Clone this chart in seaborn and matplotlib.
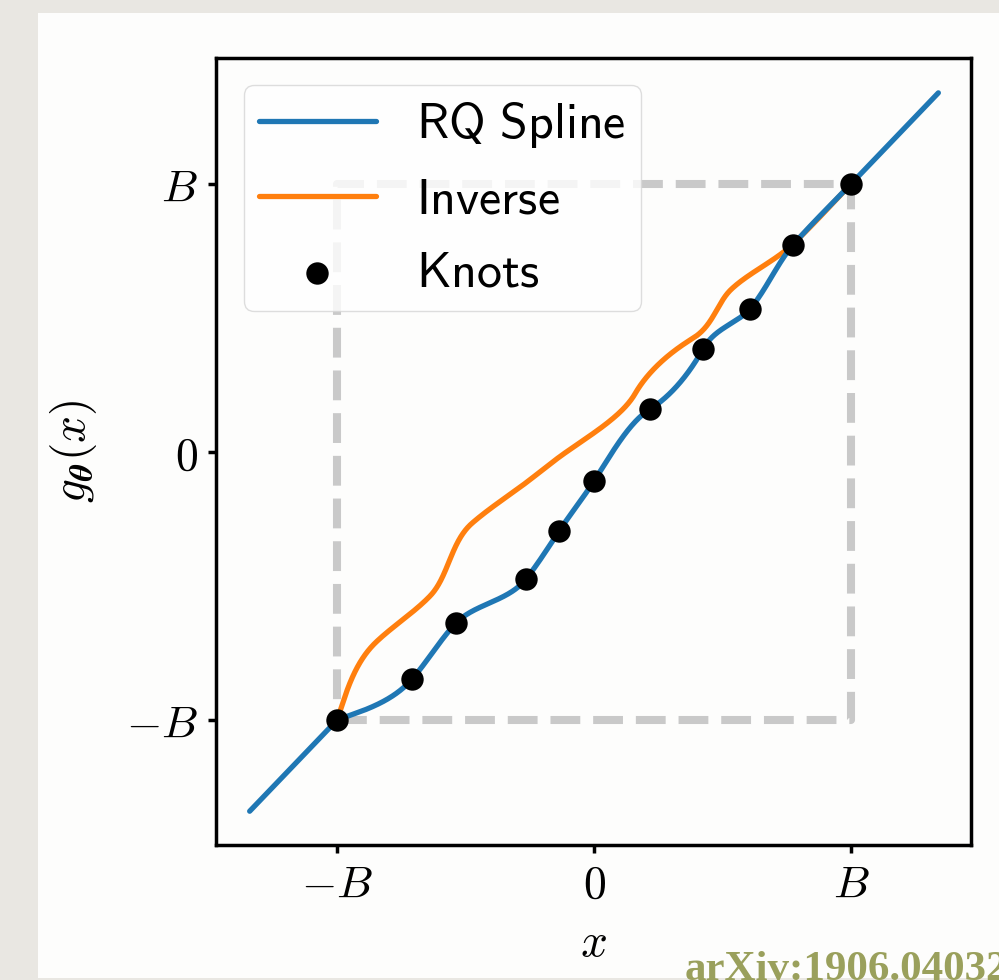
import numpy as np
import pandas as pd
import matplotlib
matplotlib.use("Agg")
import matplotlib.pyplot as plt
from matplotlib.patches import Rectangle
import seaborn as sns

# ---- data (B = 1) ----
knot_x = [-1.0, -0.708, -0.537, -0.265, -0.136, 0.0, 0.218, 0.424, 0.607, 0.774, 1.0]
knot_y = [-1.0, -0.847, -0.638, -0.474, -0.295, -0.108, 0.160, 0.384, 0.534, 0.772, 1.0]
knot_d = [0.35, 1.1, 1.0, 1.2, 1.45, 1.5, 0.6, 1.7, 1.1, 1.1, 1.0]
tail_lo = -1.34
tail_hi = 1.34
box_x = [-1, 1, 1, -1, -1]
box_y = [-1, -1, 1, 1, -1]
tick_vals = [-1, 0, 1]
tick_labels = [r"$-B$", r"$0$", r"$B$"]
legend_labels = [r"$\mathsf{RQ\ Spline}$", r"$\mathsf{Inverse}$", r"$\mathsf{Knots}$"]


def rq_spline(x, kx, ky, kd):
    kx, ky, kd = map(np.asarray, (kx, ky, kd))
    out = np.empty_like(x)
    for i, xv in enumerate(x):
        k = np.clip(np.searchsorted(kx, xv, side="right") - 1, 0, len(kx) - 2)
        w = kx[k + 1] - kx[k]
        h = ky[k + 1] - ky[k]
        s = h / w
        xi = (xv - kx[k]) / w
        num = h * (s * xi ** 2 + kd[k] * xi * (1 - xi))
        den = s + (kd[k + 1] + kd[k] - 2 * s) * xi * (1 - xi)
        out[i] = ky[k] + num / den
    return out


x_in = np.linspace(knot_x[0], knot_x[-1], 800)
y_in = rq_spline(x_in, knot_x, knot_y, knot_d)
x_lo = np.linspace(tail_lo, knot_x[0], 20)
x_hi = np.linspace(knot_x[-1], tail_hi, 20)
fwd = pd.DataFrame({"x": np.concatenate([x_lo, x_in, x_hi]),
                    "y": np.concatenate([x_lo, y_in, x_hi])})
inv = pd.DataFrame({"x": y_in, "y": x_in})
knots = pd.DataFrame({"x": knot_x, "y": knot_y})

# ---- figure ----
sns.set_style("ticks")
plt.rcParams["mathtext.fontset"] = "cm"
plt.rcParams["font.family"] = ["DejaVu Sans"]

fig = plt.figure(figsize=(9.99, 9.8), dpi=100, facecolor="#e9e7e2")
panel = Rectangle((38 / 999, 2 / 980), 1.0, (978 - 13) / 980,
                  transform=fig.transFigure, facecolor="#fdfdfc",
                  edgecolor="none", zorder=-10)
fig.patches.append(panel)
ax = fig.add_axes([216 / 999, (980 - 845) / 980, 755 / 999, 787 / 980])
ax.set_zorder(1)
ax.set_facecolor("none")

ax.plot(box_x, box_y, color="#c9c9c9", lw=5.8, ls="--", zorder=1)
sns.lineplot(data=inv, x="x", y="y", color="#ff7f0e", lw=3.8, sort=False,
             estimator=None, ax=ax, zorder=2, label=legend_labels[1])
sns.lineplot(data=fwd, x="x", y="y", color="#1f77b4", lw=3.8, sort=False,
             estimator=None, ax=ax, zorder=3, label=legend_labels[0])
sns.scatterplot(data=knots, x="x", y="y", color="black", s=260, linewidth=0,
                ax=ax, zorder=4, label=legend_labels[2])

ax.set_xlim(-1.471, 1.467)
ax.set_ylim(-1.466, 1.47)
ax.set_xticks(tick_vals)
ax.set_xticklabels(tick_labels)
ax.set_yticks(tick_vals)
ax.set_yticklabels(tick_labels)
ax.tick_params(axis="both", labelsize=33, width=2.5, length=6, pad=7,
               color="black", labelcolor="black")
for sp in ax.spines.values():
    sp.set_linewidth(2.5)
    sp.set_color("black")

ax.set_xlabel(r"$x$", fontsize=34, color="black")
ax.set_ylabel(r"$g_{\boldsymbol{\theta}}(x)$", fontsize=34, color="black")
ax.xaxis.set_label_coords(0.5, -0.097)
ax.yaxis.set_label_coords(-0.155, 0.5)

handles, labels = ax.get_legend_handles_labels()
order = [labels.index(l) for l in legend_labels]
leg = ax.legend([handles[i] for i in order], [labels[i] for i in order],
                loc="upper left", fontsize=36, frameon=True, framealpha=0.8,
                edgecolor="0.84", fancybox=True, handlelength=2.35,
                handletextpad=0.8, borderaxespad=0.55, labelspacing=0.5,
                borderpad=0.3)
for t in leg.get_texts():
    t.set_color("black")

fig.text(685 / 999, 0.0, "arXiv:1906.04032", fontfamily="Liberation Serif",
         fontweight="bold", fontsize=31, color="#9aa05c", ha="left",
         va="baseline", zorder=5)

fig.savefig("out.png", dpi=100, facecolor=fig.get_facecolor())
